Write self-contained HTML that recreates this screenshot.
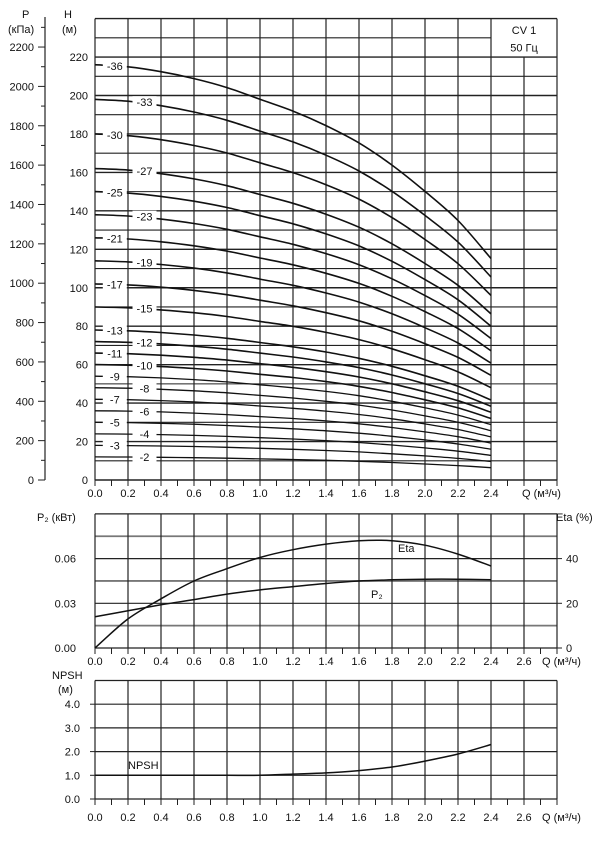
<!DOCTYPE html>
<html><head><meta charset="utf-8">
<style>
html,body{margin:0;padding:0;background:#fff;}
svg{display:block;font-family:"Liberation Sans",sans-serif;}
</style></head>
<body>
<svg id="chart" width="614" height="856" viewBox="0 0 614 856" xmlns="http://www.w3.org/2000/svg"></svg>
<script>
// ---- data ----
const qTicks = [0.0,0.2,0.4,0.6,0.8,1.0,1.2,1.4,1.6,1.8,2.0,2.2,2.4,2.6];
const qCurve = [0,0.2,0.4,0.6,0.8,1.0,1.2,1.4,1.6,1.8,2.0,2.2,2.4];
const stageHead = [6.0,5.97,5.9,5.8,5.67,5.5,5.33,5.12,4.87,4.55,4.17,3.75,3.2];
const stages = [36,33,30,27,25,23,21,19,17,15,13,12,11,10,9,8,7,6,5,4,3,2];
const hTicks = [0,20,40,60,80,100,120,140,160,180,200,220];
const pTicks = [0,200,400,600,800,1000,1200,1400,1600,1800,2000,2200];
const etaValues = [0,13,22,30,35.5,40.5,44,46.5,48,48,46,42,36.7];
const p2Values = [0.021,0.025,0.029,0.0325,0.0362,0.039,0.0412,0.0433,0.045,0.0458,0.0462,0.0462,0.0458];
const p2Ticks = [0.00,0.03,0.06];
const etaTicks = [0,20,40];
const npshValues = [1.0,1.0,1.0,1.0,1.0,1.0,1.05,1.1,1.2,1.35,1.6,1.9,2.3];
const npshTicks = [0.0,1.0,2.0,3.0,4.0];

const NS = "http://www.w3.org/2000/svg";
const svgRoot = document.getElementById('chart');
function el(tag, attrs, parent){const e=document.createElementNS(NS,tag);for(const k in attrs)e.setAttribute(k,attrs[k]);(parent||svgRoot).appendChild(e);return e;}
function txt(x,y,s,anchor,size,parent){const t=el('text',{x:x,y:y,'text-anchor':anchor||'start','font-size':size||11,fill:'#111'},parent);t.textContent=s;return t;}
function pathFrom(xs,ys,fx,fy){
  const P=xs.map((x,i)=>[fx(x),fy(ys[i])]);
  let d='M'+P[0][0].toFixed(1)+','+P[0][1].toFixed(1);
  for(let i=0;i<P.length-1;i++){
    const p0=P[Math.max(0,i-1)],p1=P[i],p2=P[i+1],p3=P[Math.min(P.length-1,i+2)];
    const c1=[p1[0]+(p2[0]-p0[0])/6,p1[1]+(p2[1]-p0[1])/6];
    const c2=[p2[0]-(p3[0]-p1[0])/6,p2[1]-(p3[1]-p1[1])/6];
    d+=' C'+c1[0].toFixed(1)+','+c1[1].toFixed(1)+' '+c2[0].toFixed(1)+','+c2[1].toFixed(1)+' '+p2[0].toFixed(1)+','+p2[1].toFixed(1);
  }
  return d;
}

const X0=95, XPX=165;
const xQ = q => X0 + q*XPX;
const XR = xQ(2.8);

// ---------- top chart ----------
const hY = h => 480 - h*1.9225;
const pY = p => 480 - p*0.1968;
const topG = el('g',{});


for(let h=0;h<=240;h+=10){
  const xe = (h>220 && h<240)? xQ(2.4) : XR;
  const ln=el('line',{x1:X0,y1:hY(h),x2:xe,y2:hY(h),stroke:'#222','stroke-width':(h%20===0?1.4:1.1)},topG);
  
  
}
for(let i=0;i<=14;i++){
  const q=i*0.2;
  const y1 = (i===13)? hY(220) : hY(240);
  const ln=el('line',{x1:xQ(q),y1:y1,x2:xQ(q),y2:480,stroke:'#222','stroke-width':1.2},topG);
  
  
}
for(let i=0;i<=28;i++){el('line',{x1:xQ(i*0.1),y1:480,x2:xQ(i*0.1),y2:486,stroke:'#222','stroke-width':1},topG);}
const bx=txt(xQ(2.6),hY(234)+4,'CV 1','middle',11,topG);


const bx2=txt(xQ(2.6),hY(225)+4,'50 Гц','middle',11,topG);


hTicks.forEach(h=>{const t=txt(88,hY(h)+4,String(h),'end',11,topG);
  
  });
txt(64,18,'H','start',11,topG);
txt(62,33,'(м)','start',11,topG);
el('line',{x1:45,y1:17,x2:45,y2:480,stroke:'#222','stroke-width':1.2},topG);
for(let p=0;p<=2300;p+=100){el('line',{x1:(p%200===0?38:41),y1:pY(p),x2:45,y2:pY(p),stroke:'#222','stroke-width':1},topG);}
pTicks.forEach(p=>{const t=txt(34,pY(p)+4,String(p),'end',11,topG);
  
  });
txt(22,18,'P','start',11,topG);
txt(8,33,'(кПа)','start',11,topG);
qTicks.slice(0,13).forEach(q=>{const t=txt(xQ(q),497,q.toFixed(1),'middle',11,topG);
  
  });
txt(522,497,'Q (м³/ч)','start',11,topG);
stages.forEach((n,k)=>{
  const heads = stageHead.map(h=>h*n);
  const p=el('path',{d:pathFrom(qCurve,heads,xQ,hY),fill:'none',stroke:'#111','stroke-width':(n>=10?1.6:1.3)},topG);
  
  
  const lq = (k%2===0)?0.12:0.3;
  const ly = hY(heads[0] - (heads[0]-heads[1])*lq/0.2);
  el('rect',{x:xQ(lq)-12,y:ly-6,width:24,height:11,fill:'#fff'},topG);
  const t=txt(xQ(lq),ly+4,'-'+n,'middle',11,topG);
  
  
});

// ---------- middle chart ----------
const pwY = v => 648 - v*1490;
const etY = v => 648 - v*2.235;
const midG = el('g',{});


[0,0.015,0.03,0.045,0.06,0.075,0.09].forEach((v,i)=>{
  el('line',{x1:X0,y1:pwY(v),x2:XR,y2:pwY(v),stroke:(i%2?'#777':'#222'),'stroke-width':(i%2?1.8:1.2)},midG);
});
for(let i=0;i<=14;i++){el('line',{x1:xQ(i*0.2),y1:pwY(0.09),x2:xQ(i*0.2),y2:648,stroke:'#222','stroke-width':1.2},midG);}
for(let i=0;i<=28;i++){el('line',{x1:xQ(i*0.1),y1:648,x2:xQ(i*0.1),y2:654,stroke:'#222','stroke-width':1},midG);}
p2Ticks.forEach(v=>{const t=txt(76,pwY(v)+4,v.toFixed(2),'end',11,midG);
  
  });
etaTicks.forEach(v=>{el('line',{x1:XR,y1:etY(v),x2:XR+5,y2:etY(v),stroke:'#222'},midG);
  const t=txt(566,etY(v)+4,String(v),'start',11,midG);
  
  });
txt(37,521,'P₂ (кВт)','start',11,midG);
txt(556,521,'Eta (%)','start',11,midG);
qTicks.forEach(q=>{txt(xQ(q),665,q.toFixed(1),'middle',11,midG);});
txt(542,665,'Q (м³/ч)','start',11,midG);
const ec=el('path',{d:pathFrom(qCurve,etaValues,xQ,etY),fill:'none',stroke:'#111','stroke-width':1.5},midG);


const pc=el('path',{d:pathFrom(qCurve,p2Values,xQ,pwY),fill:'none',stroke:'#111','stroke-width':1.5},midG);


txt(398,552,'Eta','start',11,midG);
txt(371,598,'P₂','start',11,midG);

// ---------- bottom chart ----------
const nY = v => 799 - v*23.7;
const botG = el('g',{});


[0,1,2,3,4,5].forEach(v=>{el('line',{x1:X0,y1:nY(v),x2:XR,y2:nY(v),stroke:'#222','stroke-width':1.2},botG);});
for(let i=0;i<=14;i++){el('line',{x1:xQ(i*0.2),y1:nY(5),x2:xQ(i*0.2),y2:799,stroke:'#222','stroke-width':1.2},botG);}
for(let i=0;i<=28;i++){el('line',{x1:xQ(i*0.1),y1:799,x2:xQ(i*0.1),y2:805,stroke:'#222','stroke-width':1},botG);}
npshTicks.forEach(v=>{el('line',{x1:X0-5,y1:nY(v),x2:X0,y2:nY(v),stroke:'#222'},botG);
  const t=txt(80,nY(v)+4,v.toFixed(1),'end',11,botG);
  
  });
txt(52,679,'NPSH','start',11,botG);
txt(58,693,'(м)','start',11,botG);
qTicks.forEach(q=>{txt(xQ(q),821,q.toFixed(1),'middle',11,botG);});
txt(542,821,'Q (м³/ч)','start',11,botG);
const nc=el('path',{d:pathFrom(qCurve,npshValues,xQ,nY),fill:'none',stroke:'#111','stroke-width':1.5},botG);


txt(128,769,'NPSH','start',11,botG);
</script>
</body></html>
